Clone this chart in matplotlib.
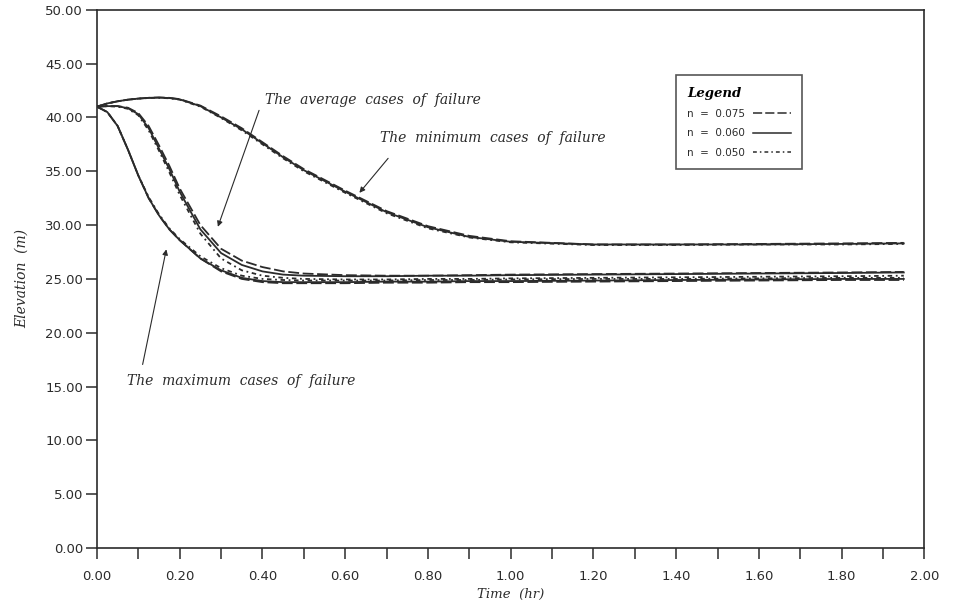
import matplotlib
matplotlib.use("Agg")
import matplotlib.pyplot as plt
from matplotlib.lines import Line2D

# time axis (hr) shared by all runs
t = [0.00, 0.025, 0.05, 0.075, 0.10, 0.125, 0.15, 0.175, 0.20, 0.25, 0.30,
     0.35, 0.40, 0.45, 0.50, 0.60, 0.70, 0.80, 0.90, 1.00, 1.20, 1.40,
     1.60, 1.80, 1.95]

# minimum cases of failure, n = 0.075 / 0.060 / 0.050
min_075 = [41.0, 41.3, 41.5, 41.65, 41.75, 41.82, 41.85, 41.82, 41.7, 41.1, 40.1,
           39.0, 37.7, 36.4, 35.2, 33.2, 31.3, 29.9, 29.0, 28.5, 28.2, 28.2,
           28.25, 28.3, 28.35]
min_060 = [41.0, 41.3, 41.5, 41.65, 41.75, 41.82, 41.85, 41.8, 41.68, 41.05, 40.0,
           38.9, 37.6, 36.3, 35.1, 33.1, 31.2, 29.8, 28.9, 28.45, 28.2, 28.2,
           28.2, 28.25, 28.3]
min_050 = [41.0, 41.3, 41.5, 41.65, 41.75, 41.8, 41.82, 41.78, 41.65, 41.0, 39.95,
           38.8, 37.5, 36.2, 35.0, 33.0, 31.1, 29.7, 28.85, 28.4, 28.15, 28.15,
           28.2, 28.2, 28.25]

# average cases of failure
avg_075 = [41.0, 41.05, 41.05, 40.9, 40.4, 39.2, 37.4, 35.5, 33.4, 30.0, 27.8,
           26.7, 26.1, 25.7, 25.5, 25.35, 25.3, 25.3, 25.35, 25.4, 25.45, 25.5,
           25.55, 25.6, 25.65]
avg_060 = [41.0, 41.05, 41.05, 40.85, 40.3, 39.0, 37.1, 35.2, 33.1, 29.6, 27.4,
           26.3, 25.7, 25.4, 25.3, 25.25, 25.25, 25.3, 25.3, 25.35, 25.4, 25.45,
           25.5, 25.55, 25.6]
avg_050 = [41.0, 41.05, 41.0, 40.8, 40.2, 38.8, 36.9, 34.9, 32.8, 29.2, 26.9,
           25.8, 25.3, 25.1, 25.0, 24.95, 24.95, 25.0, 25.0, 25.05, 25.1, 25.15,
           25.2, 25.25, 25.3]

# maximum cases of failure
max_075 = [41.0, 40.5, 39.2, 37.0, 34.6, 32.5, 30.9, 29.6, 28.6, 26.9, 25.7,
           25.0, 24.7, 24.6, 24.6, 24.6, 24.65, 24.65, 24.7, 24.7, 24.75, 24.8,
           24.85, 24.9, 24.9]
max_060 = [41.0, 40.5, 39.2, 37.0, 34.6, 32.5, 30.9, 29.6, 28.6, 26.9, 25.8,
           25.1, 24.8, 24.7, 24.7, 24.7, 24.75, 24.75, 24.8, 24.8, 24.85, 24.9,
           24.95, 25.0, 25.0]
max_050 = [41.0, 40.5, 39.2, 37.0, 34.6, 32.6, 31.0, 29.7, 28.7, 27.1, 26.0,
           25.3, 25.0, 24.9, 24.85, 24.85, 24.85, 24.9, 24.9, 24.95, 25.0, 25.0,
           25.05, 25.1, 25.1]

n_labels = ["n  =  0.075", "n  =  0.060", "n  =  0.050"]

INK = "#2b2b2b"
STYLES = [(0, (6, 2)), "-", (0, (2.5, 2, 1, 2))]

fig = plt.figure(figsize=(9.6, 6.11), dpi=100)
ax = fig.add_axes([0.101, 0.103, 0.862, 0.881])

groups = [
    (min_075, min_060, min_050),
    (avg_075, avg_060, avg_050),
    (max_075, max_060, max_050),
]
for series in groups:
    for y, ls in zip(series, STYLES):
        ax.plot(t, y, color=INK, linestyle=ls, linewidth=1.3)

ax.set_xlim(0, 2.0)
ax.set_ylim(0, 50)
ax.set_xticks([i * 0.2 for i in range(11)])
ax.set_xticks([i * 0.1 for i in range(21)], minor=True)
ax.set_yticks([i * 5 for i in range(11)])
ax.set_xticklabels([f"{i * 0.2:.2f}" for i in range(11)])
ax.set_yticklabels([f"{i * 5:.2f}" for i in range(11)])
ax.tick_params(axis="both", which="both", direction="out", colors=INK,
               labelsize=9.5, width=1.1)
ax.tick_params(axis="x", which="both", length=8, pad=8)
ax.tick_params(axis="y", length=8, pad=2)
for sp in ax.spines.values():
    sp.set_color(INK)
    sp.set_linewidth(1.2)

label_font = dict(family="DejaVu Serif", style="italic", color=INK)
ax.set_xlabel("Time  (hr)", fontsize=9.5, labelpad=3, **label_font)
ax.set_ylabel("Elevation  (m)", fontsize=10, labelpad=12, **label_font)

note_font = dict(family="DejaVu Serif", style="italic", color=INK, fontsize=10,
                 va="center", ha="left")
ax.text(0.405, 41.6, "The  average  cases  of  failure", **note_font)
ax.text(0.683, 38.1, "The  minimum  cases  of  failure", **note_font)
ax.text(0.072, 15.5, "The  maximum  cases  of  failure", **note_font)

arrow = dict(arrowstyle="-|>", color=INK, lw=0.8, mutation_scale=8)
ax.annotate("", xy=(0.290, 29.6), xytext=(0.394, 40.9), arrowprops=arrow)
ax.annotate("", xy=(0.630, 32.8), xytext=(0.708, 36.4), arrowprops=arrow)
ax.annotate("", xy=(0.169, 28.0), xytext=(0.109, 16.8), arrowprops=arrow)

handles = [Line2D([], [], color=INK, linestyle=ls, linewidth=1.1) for ls in STYLES]
leg = ax.legend(handles, n_labels, title="Legend", loc="upper left",
                bbox_to_anchor=(0.693, 0.888), markerfirst=False,
                handlelength=3.6, fontsize=7.5, frameon=True, fancybox=False,
                borderpad=1.1, labelspacing=0.9, alignment="left")
leg.get_frame().set_edgecolor(INK)
leg.get_frame().set_linewidth(1.2)
leg.get_title().set_fontfamily("DejaVu Serif")
leg.get_title().set_fontstyle("italic")
leg.get_title().set_fontweight("bold")
leg.get_title().set_fontsize(9.5)
for txt in leg.get_texts():
    txt.set_color(INK)

fig.savefig("out.png", dpi=100, facecolor="white")
